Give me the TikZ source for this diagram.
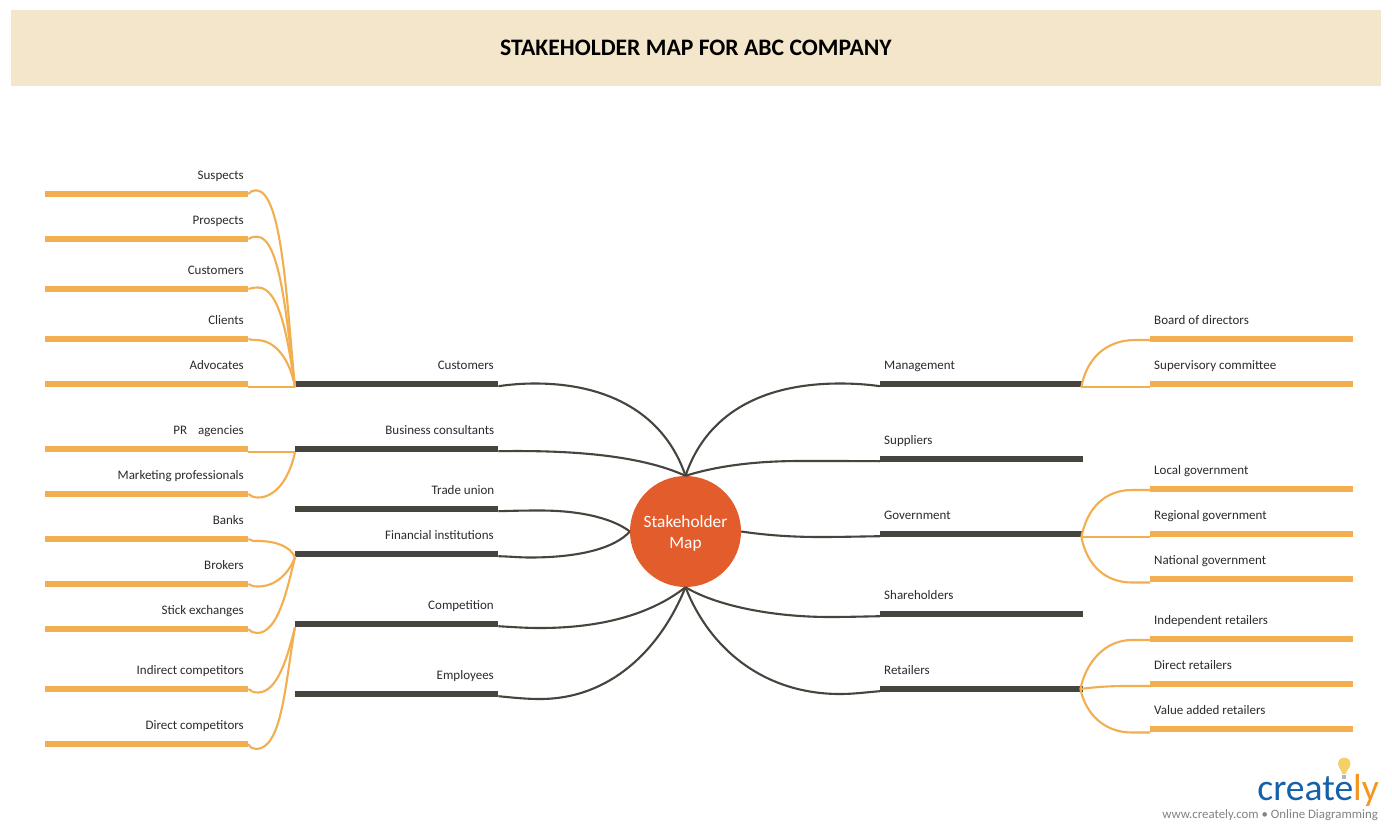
\documentclass[tikz,border=0pt]{standalone}
\usepackage{fontspec}
\setmainfont{Carlito}
\tikzset{
  obar/.style={draw=none,fill=barorange,inner sep=0pt,minimum width=203pt,minimum height=6pt,anchor=west},
  dbar/.style={draw=none,fill=bardark,inner sep=0pt,minimum width=203pt,minimum height=6pt,anchor=west},
  lableft/.style={anchor=base east,inner sep=0pt,text=labeltext,font=\fontsize{13pt}{15pt}\selectfont},
  labright/.style={anchor=base west,inner sep=0pt,text=labeltext,font=\fontsize{13pt}{15pt}\selectfont},
  oline/.style={draw=barorange,line width=2.1pt},
  dline/.style={draw=bardark,line width=2.1pt},
}
\definecolor{barorange}{HTML}{F2AE4F}
\definecolor{bardark}{HTML}{45443D}
\definecolor{labeltext}{HTML}{2B2B2B}
\definecolor{banner}{HTML}{F3E6CB}
\definecolor{hubfill}{HTML}{E35D2C}
\definecolor{logoblue}{HTML}{1560AA}
\definecolor{logoorange}{HTML}{F5951F}
\definecolor{bulb}{HTML}{F6D064}
\definecolor{logogray}{HTML}{808285}
\begin{document}
\begin{tikzpicture}[x=1pt,y=-1pt]
\useasboundingbox (0,0) rectangle (1392,830);
\fill[white] (0,0) rectangle (1392,830);
\node[fill=banner,inner sep=0pt,minimum width=1370pt,minimum height=76pt,anchor=north west] (banner) at (11,9.5) {};
\node[font=\fontsize{23.65pt}{26pt}\selectfont\bfseries,text=black] (title) at (696,47.5) {STAKEHOLDER MAP FOR ABC COMPANY};

% centre
\node[circle,fill=hubfill,inner sep=0pt,minimum size=111pt] (hub) at (685.5,531.5) {};
\node[text=white,align=center,inner sep=0pt,font=\fontsize{17.3pt}{21pt}\selectfont] (hubtext) at (685.5,533) {Stakeholder\\Map};

% dark bars
\node[dbar] (cu) at (295,384) {};
\node[dbar] (bc) at (295,449) {};
\node[dbar] (tu) at (295,509) {};
\node[dbar] (fi) at (295,554) {};
\node[dbar] (co) at (295,624) {};
\node[dbar] (em) at (295,694) {};
\node[dbar] (mg) at (880,384) {};
\node[dbar] (su) at (880,459) {};
\node[dbar] (go) at (880,534) {};
\node[dbar] (sh) at (880,614) {};
\node[dbar] (re) at (880,689) {};

% orange bars, left
\node[obar] (l1) at (45,194) {};
\node[obar] (l2) at (45,239) {};
\node[obar] (l3) at (45,289) {};
\node[obar] (l4) at (45,339) {};
\node[obar] (l5) at (45,384) {};
\node[obar] (l6) at (45,449) {};
\node[obar] (l7) at (45,494) {};
\node[obar] (l8) at (45,539) {};
\node[obar] (l9) at (45,584) {};
\node[obar] (l10) at (45,629) {};
\node[obar] (l11) at (45,689) {};
\node[obar] (l12) at (45,744) {};
% orange bars, right
\node[obar] (r1) at (1150,339) {};
\node[obar] (r2) at (1150,384) {};
\node[obar] (r3) at (1150,489) {};
\node[obar] (r4) at (1150,534) {};
\node[obar] (r5) at (1150,579) {};
\node[obar] (r6) at (1150,639) {};
\node[obar] (r7) at (1150,684) {};
\node[obar] (r8) at (1150,729) {};

% labels
\node[lableft] (tcu) at (494,369) {Customers};
\node[lableft] (tbc) at (494.5,434) {Business consultants};
\node[lableft] (ttu) at (494.5,494) {Trade union};
\node[lableft] (tfi) at (494,539) {Financial institutions};
\node[lableft] (tco) at (494,609) {Competition};
\node[lableft] (tem) at (494,679) {Employees};
\node[labright] (tmg) at (884,369) {Management};
\node[labright] (tsu) at (884,444) {Suppliers};
\node[labright] (tgo) at (884,519) {Government};
\node[labright] (tsh) at (884,599) {Shareholders};
\node[labright] (tre) at (884,674) {Retailers};
\node[lableft] (t1) at (244,179) {Suspects};
\node[lableft] (t2) at (244,224) {Prospects};
\node[lableft] (t3) at (244,274) {Customers};
\node[lableft] (t4) at (244,324) {Clients};
\node[lableft] (t5) at (244,369) {Advocates};
\node[lableft] (t6) at (244,434) {PR\hspace{11pt}agencies};
\node[lableft] (t7) at (244,479) {Marketing professionals};
\node[lableft] (t8) at (244,524) {Banks};
\node[lableft] (t9) at (244,569) {Brokers};
\node[lableft] (t10) at (244,614) {Stick exchanges};
\node[lableft] (t11) at (244,674) {Indirect competitors};
\node[lableft] (t12) at (244,729) {Direct competitors};
\node[labright] (s1) at (1154,324) {Board of directors};
\node[labright] (s2) at (1154,369) {Supervisory committee};
\node[labright] (s3) at (1154,474) {Local government};
\node[labright] (s4) at (1154,519) {Regional government};
\node[labright] (s5) at (1154,564) {National government};
\node[labright] (s6) at (1154,624) {Independent retailers};
\node[labright] (s7) at (1154,669) {Direct retailers};
\node[labright] (s8) at (1154,714) {Value added retailers};

% dark connectors
\draw[dline] ([yshift=1pt]cu.south east) .. controls (510,384.5) and (522,383.5) .. (535,383.5) .. controls (610,383.5) and (665,415) .. (hub.north);
\draw[dline] ([yshift=1pt]bc.south east) .. controls (570,450) and (640,455) .. (hub.north);
\draw[dline] ([yshift=1pt]tu.south east) .. controls (515,510.7) and (525,510.5) .. (540,510.5) .. controls (585,510.5) and (615,520) .. (hub.west);
\draw[dline] ([yshift=1pt]fi.south east) .. controls (510,556.5) and (520,557.5) .. (530,557.5) .. controls (580,557.5) and (615,548) .. (hub.west);
\draw[dline] ([yshift=1pt]co.south east) .. controls (512,627) and (525,628) .. (540,628) .. controls (600,628) and (650,615) .. (hub.south);
\draw[dline] ([yshift=1pt]em.south east) .. controls (512,697.5) and (525,699) .. (540,699) .. controls (610,699) and (660,650) .. (hub.south);
\draw[dline] ([yshift=1pt]mg.south west) .. controls (868,384.5) and (855,383.5) .. (840,383.5) .. controls (760,383.5) and (706,415) .. (hub.north);
\draw[dline] ([yshift=1pt]su.south west) .. controls (860,461) and (820,461) .. (800,461) .. controls (760,461) and (720,465) .. (hub.north);
\draw[dline] ([yshift=1pt]go.south west) .. controls (860,536.5) and (840,537) .. (820,537) .. controls (790,537) and (765,535) .. (hub.east);
\draw[dline] ([yshift=1pt]sh.south west) .. controls (865,616.5) and (845,617) .. (830,617) .. controls (770,617) and (715,605) .. (hub.south);
\draw[dline] ([yshift=1pt]re.south west) .. controls (868,692) and (855,694) .. (840,694) .. controls (765,694) and (710,650) .. (hub.south);

% orange connectors, left
\draw[oline] (l1.east) .. controls (251,191.3) and (253,190.3) .. (256,190.3) .. controls (283,190.3) and (287,310) .. (cu.south west);
\draw[oline] (l2.east) .. controls (251,237.3) and (253,236.7) .. (257,236.7) .. controls (281,236.7) and (287,325) .. (cu.south west);
\draw[oline] (l3.east) .. controls (251,288) and (254,287.5) .. (258,287.5) .. controls (280,287.5) and (288,340) .. (cu.south west);
\draw[oline] (l4.east) .. controls (251,340) and (253,340) .. (256,340) .. controls (276,340) and (290,360) .. (cu.south west);
\draw[oline] (l5.south east) -- (cu.south west);
\draw[oline] (l6.south east) -- (bc.south west);
\draw[oline] (l7.east) .. controls (251,496.5) and (254,497.5) .. (258,497.5) .. controls (275,497.5) and (289,480) .. (bc.south west);
\draw[oline] (l8.east) .. controls (251,541) and (254,541) .. (258,541) .. controls (275,541) and (290,546) .. (fi.south west);
\draw[oline] (l9.east) .. controls (251,586) and (254,586.5) .. (258,586.5) .. controls (276,586.5) and (289,573) .. (fi.south west);
\draw[oline] (l10.east) .. controls (251,632) and (254,633) .. (257,633) .. controls (278,633) and (287,590) .. (fi.south west);
\draw[oline] (l11.east) .. controls (251,691.5) and (254,692.5) .. (258,692.5) .. controls (278,692.5) and (288,655) .. (co.south west);
\draw[oline] (l12.east) .. controls (250,747.5) and (253,749) .. (256,749) .. controls (282,749) and (285,685) .. (co.south west);

% orange connectors, right
\draw[oline] ([xshift=-2pt]mg.south east) .. controls (1086,360) and (1105,340) .. (1135,340) -- ([yshift=-1pt]r1.west);
\draw[oline] ([xshift=-2pt]mg.south east) -- (r2.south west);
\draw[oline] ([xshift=-2pt]go.south east) .. controls (1087,508) and (1105,490) .. (1132,490) -- ([yshift=-1pt]r3.west);
\draw[oline] ([xshift=-2pt]go.south east) -- (r4.south west);
\draw[oline] ([xshift=-2pt]go.south east) .. controls (1087,565) and (1105,582.5) .. (1132,582.5) -- ([yshift=-3.5pt]r5.west);
\draw[oline] ([xshift=-3pt]re.east) .. controls (1086,662) and (1105,640) .. (1132,640) -- ([yshift=-1pt]r6.west);
\draw[oline] ([xshift=-3pt]re.east) .. controls (1095,687) and (1110,686) .. (1125,686) -- ([yshift=-2pt]r7.west);
\draw[oline] ([xshift=-3pt]re.east) .. controls (1086,715) and (1105,732.5) .. (1132,732.5) -- ([yshift=-3.5pt]r8.west);

% logo
\fill[bulb] (1342.5,774) .. controls (1341,769) and (1338,767.5) .. (1338,764) .. controls (1338,755.5) and (1350.5,755.5) .. (1350.5,764) .. controls (1350.5,767.5) and (1347,769) .. (1345.5,774) -- cycle;
\fill[logogray!60] (1342,775) rectangle (1346,779);
\node[anchor=base east,inner sep=0pt,font=\fontsize{37.6pt}{40pt}\selectfont] (logo) at (1379,800) {\textcolor{logoblue}{create}\textcolor{logoorange}{ly}};
\node[anchor=base east,inner sep=0pt,text=logogray,font=\fontsize{12.85pt}{15pt}\selectfont] (url) at (1378,818) {www.creately.com • Online Diagramming};
\end{tikzpicture}
\end{document}
